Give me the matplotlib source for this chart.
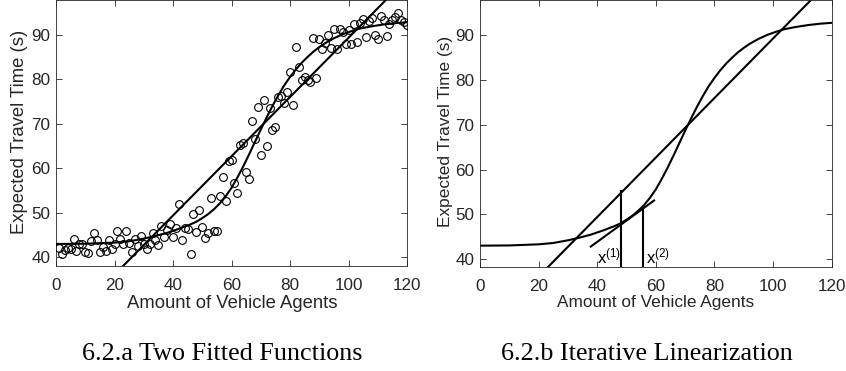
import matplotlib
matplotlib.use("Agg")
import matplotlib.pyplot as plt

plt.rcParams['font.family'] = ['Liberation Sans', 'DejaVu Sans']
plt.rcParams['mathtext.fontset'] = 'custom'
plt.rcParams['mathtext.rm'] = 'Liberation Sans'
plt.rcParams['mathtext.it'] = 'Liberation Sans'

# ---- data ----
agents = [1, 2, 3, 4, 5, 6, 7, 8, 9, 10,
          11, 12, 13, 14, 15, 16, 17, 18, 19, 20,
          21, 22, 23, 24, 25, 26, 27, 28, 29, 30,
          31, 32, 33, 34, 35, 36, 37, 38, 39, 40,
          41, 42, 43, 44, 45, 46, 47, 48, 49, 50,
          51, 52, 53, 54, 55, 56, 57, 58, 59, 60,
          61, 62, 63, 64, 65, 66, 67, 68, 69, 70,
          71, 72, 73, 74, 75, 76, 77, 78, 79, 80,
          81, 82, 83, 84, 85, 86, 87, 88, 89, 90,
          91, 92, 93, 94, 95, 96, 97, 98, 99, 100,
          101, 102, 103, 104, 105, 106, 107, 108, 109, 110,
          111, 112, 113, 114, 115, 116, 117, 118, 119, 120]
travel_time = [42.0, 40.7, 41.6, 42.2, 41.8, 44.2, 41.5, 42.9, 42.9, 41.2,
               41.0, 43.7, 45.4, 43.9, 41.3, 42.4, 41.5, 43.9, 41.9, 43.1,
               45.8, 44.2, 43.1, 46.0, 43.3, 41.2, 44.2, 42.5, 44.8, 43.1,
               41.8, 43.1, 45.5, 44.0, 42.8, 47.0, 44.5, 46.2, 47.5, 44.6,
               46.6, 52.0, 43.9, 46.6, 46.4, 40.7, 49.7, 45.7, 50.6, 46.7,
               44.4, 45.4, 53.3, 45.8, 45.8, 53.7, 58.1, 52.6, 61.7, 61.8,
               56.8, 54.4, 65.3, 65.6, 59.2, 57.7, 70.7, 66.5, 73.7, 63.0,
               75.3, 65.1, 73.5, 68.7, 69.2, 76.1, 76.2, 74.6, 77.1, 81.7,
               74.3, 87.3, 82.7, 79.8, 80.6, 79.8, 79.4, 89.2, 80.2, 89.0,
               86.8, 88.2, 90.0, 87.0, 91.2, 86.9, 91.3, 90.7, 88.0, 91.0,
               88.0, 92.3, 88.3, 92.7, 93.6, 89.6, 93.0, 93.7, 89.9, 89.1,
               94.2, 93.2, 89.7, 92.5, 93.4, 93.9, 94.8, 93.3, 92.9, 92.2]

# sigmoid fit
sig_x = [0, 10, 20, 25, 30, 34, 38, 42, 46, 48, 50, 52, 54, 56, 58, 60,
         62, 64, 66, 68, 70, 72, 74, 76, 78, 80, 82, 84, 86, 88, 90, 92,
         95, 98, 101, 104, 108, 112, 116, 120]
sig_y = [43.0, 43.05, 43.3, 43.6, 44.2, 44.8, 45.5, 46.4, 47.4, 48.0, 48.8,
         49.7, 50.8, 52.1, 53.7, 55.6, 57.9, 60.4, 63.1, 65.9, 68.7, 71.4,
         74.0, 76.4, 78.6, 80.5, 82.2, 83.7, 85.0, 86.2, 87.2, 88.1, 89.2,
         90.1, 90.8, 91.4, 91.9, 92.3, 92.6, 92.8]

# linear fit (secant)
lin_x = [20, 120]
lin_y = [36.1, 102.6]

# tangent at x(1)
tan_x = [37.8, 59.4]
tan_y = [42.8, 53.1]

# iterates
iter_x = [48.1, 55.7]
iter_top = [55.2, 51.6]
iter_labels = [r'$\mathregular{x^{(1)}}$', r'$\mathregular{x^{(2)}}$']
iter_label_x = [40.0, 56.6]

x_ticks = [0, 20, 40, 60, 80, 100, 120]
y_ticks = [40, 50, 60, 70, 80, 90]

captions = ['6.2.a Two Fitted Functions', '6.2.b Iterative Linearization']

# ---- figure ----
W, H = 846, 371
fig = plt.figure(figsize=(W / 100, H / 100), dpi=100)
fig.patch.set_facecolor('white')

gray = '#262626'


def style(ax, ylim):
    ax.set_xlim(0, 120)
    ax.set_ylim(*ylim)
    ax.set_xticks(x_ticks)
    ax.set_yticks(y_ticks)
    ax.tick_params(direction='in', top=True, right=True, length=4,
                   width=0.6, colors=gray, labelsize=12.3)
    ax.tick_params(axis='x', pad=8.5)
    ax.tick_params(axis='y', pad=4)
    for s in ax.spines.values():
        s.set_color(gray)
        s.set_linewidth(0.6)


ax1 = fig.add_axes([56 / W, 1 - 266 / H, 351 / W, 266 / H])
style(ax1, (38.05, 97.8))
ax1.plot(agents, travel_time, 'o', mfc='none', mec='black', ms=5.6,
         mew=0.8, zorder=3)
ax1.plot(sig_x, sig_y, color='black', lw=1.5, zorder=4)
ax1.plot(lin_x, lin_y, color='black', lw=1.5, zorder=4)

ax2 = fig.add_axes([480 / W, 1 - 266.7 / H, 351.7 / W, 266.7 / H])
style(ax2, (38.3, 97.9))
ax2.plot(sig_x, sig_y, color='black', lw=1.5)
ax2.plot(lin_x, lin_y, color='black', lw=1.5)
ax2.plot(tan_x, tan_y, color='black', lw=1.5)
for xv, top, lab, lx in zip(iter_x, iter_top, iter_labels, iter_label_x):
    ax2.plot([xv, xv], [37.0, top], color='black', lw=1.5, clip_on=True)
    ax2.text(lx, 39.0, lab, fontsize=12, color='black', ha='left',
             va='baseline')

# axis labels
fig.text(232 / W, 1 - 304 / H, 'Amount of Vehicle Agents', fontsize=13.3,
         color=gray, ha='center', va='center')
fig.text(20 / W, 1 - 131.5 / H, 'Expected Travel Time (s)', fontsize=13.3,
         color=gray, ha='center', va='center', rotation=90)
fig.text(655.7 / W, 1 - 302.7 / H, 'Amount of Vehicle Agents', fontsize=12.4,
         color=gray, ha='center', va='center')
fig.text(445.5 / W, 1 - 131 / H, 'Expected Travel Time (s)', fontsize=12.4,
         color=gray, ha='center', va='center', rotation=90)

# captions
fig.text(222 / W, 1 - 354 / H, captions[0], fontsize=18.8,
         family='Liberation Serif', ha='center', va='center', color='black')
fig.text(647 / W, 1 - 354 / H, captions[1], fontsize=18.8,
         family='Liberation Serif', ha='center', va='center', color='black')

fig.savefig('out.png', dpi=100, facecolor='white')
